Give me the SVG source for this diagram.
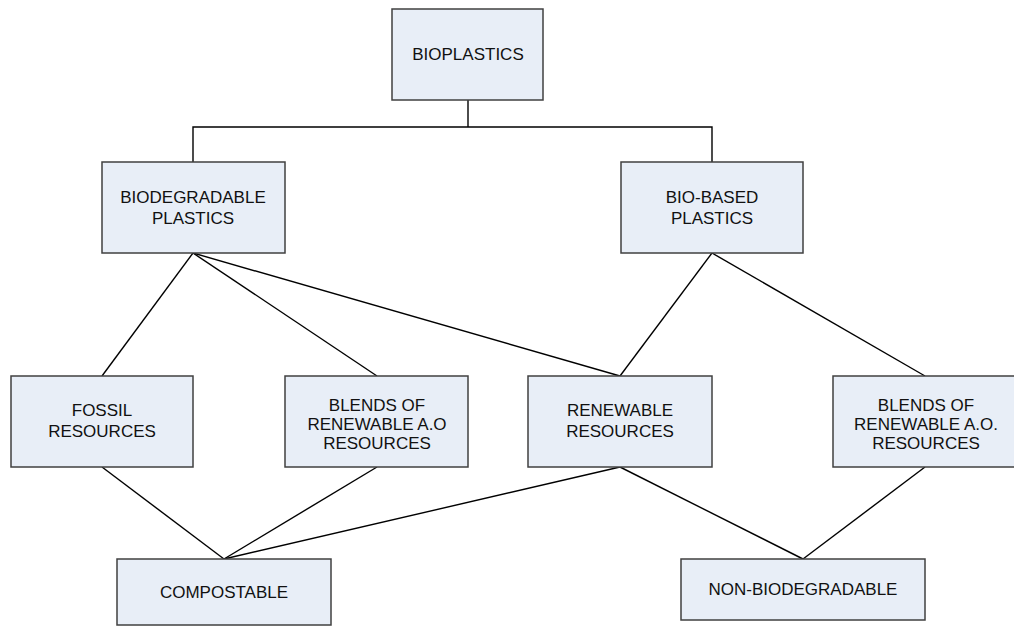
<svg xmlns="http://www.w3.org/2000/svg" width="1014" height="626" viewBox="0 0 1014 626">
<style>
.box{fill:#E8EEF7;stroke:#404040;stroke-width:1.5}
.lbl{font-family:"Liberation Sans",Arial,sans-serif;font-size:17px;fill:#111;text-anchor:middle}
.con{stroke:#000;stroke-width:1.4;fill:none}
</style>
<rect width="1014" height="626" fill="#fff"/>
<g id="connectors">
<polyline class="con" points="468,100 468,127"/>
<polyline class="con" points="193,162 193,127 712,127 712,162"/>
<line class="con" x1="193" y1="253" x2="102" y2="376"/>
<line class="con" x1="193" y1="253" x2="377" y2="376"/>
<line class="con" x1="193" y1="253" x2="620" y2="376"/>
<line class="con" x1="712" y1="253" x2="620" y2="376"/>
<line class="con" x1="712" y1="253" x2="925" y2="376"/>
<line class="con" x1="102" y1="467" x2="224" y2="559"/>
<line class="con" x1="377" y1="467" x2="224" y2="559"/>
<line class="con" x1="620" y1="467" x2="224" y2="559"/>
<line class="con" x1="620" y1="467" x2="803" y2="559"/>
<line class="con" x1="925" y1="467" x2="803" y2="559"/>
</g>
<g id="bioplastics">
<rect class="box" x="392" y="9" width="151" height="91"/>
<text class="lbl" x="468" y="60">BIOPLASTICS</text>
</g>
<g id="biodegradable">
<rect class="box" x="102" y="162" width="183" height="91"/>
<text class="lbl" x="193" y="203">BIODEGRADABLE</text>
<text class="lbl" x="193" y="224">PLASTICS</text>
</g>
<g id="biobased">
<rect class="box" x="621" y="162" width="182" height="91"/>
<text class="lbl" x="712" y="203">BIO-BASED</text>
<text class="lbl" x="712" y="224">PLASTICS</text>
</g>
<g id="fossil">
<rect class="box" x="11" y="376" width="182" height="91"/>
<text class="lbl" x="102" y="416">FOSSIL</text>
<text class="lbl" x="102" y="437">RESOURCES</text>
</g>
<g id="blends1">
<rect class="box" x="285" y="376" width="183" height="91"/>
<text class="lbl" x="377" y="411">BLENDS OF</text>
<text class="lbl" x="377" y="430">RENEWABLE A.O</text>
<text class="lbl" x="377" y="449">RESOURCES</text>
</g>
<g id="renewable">
<rect class="box" x="528" y="376" width="184" height="91"/>
<text class="lbl" x="620" y="416">RENEWABLE</text>
<text class="lbl" x="620" y="437">RESOURCES</text>
</g>
<g id="blends2">
<rect class="box" x="833" y="376" width="186" height="91"/>
<text class="lbl" x="926" y="411">BLENDS OF</text>
<text class="lbl" x="926" y="430">RENEWABLE A.O.</text>
<text class="lbl" x="926" y="449">RESOURCES</text>
</g>
<g id="compostable">
<rect class="box" x="117" y="559" width="214" height="66"/>
<text class="lbl" x="224" y="598">COMPOSTABLE</text>
</g>
<g id="nonbiodegradable">
<rect class="box" x="681" y="559" width="244" height="61"/>
<text class="lbl" x="803" y="595">NON-BIODEGRADABLE</text>
</g>
</svg>
